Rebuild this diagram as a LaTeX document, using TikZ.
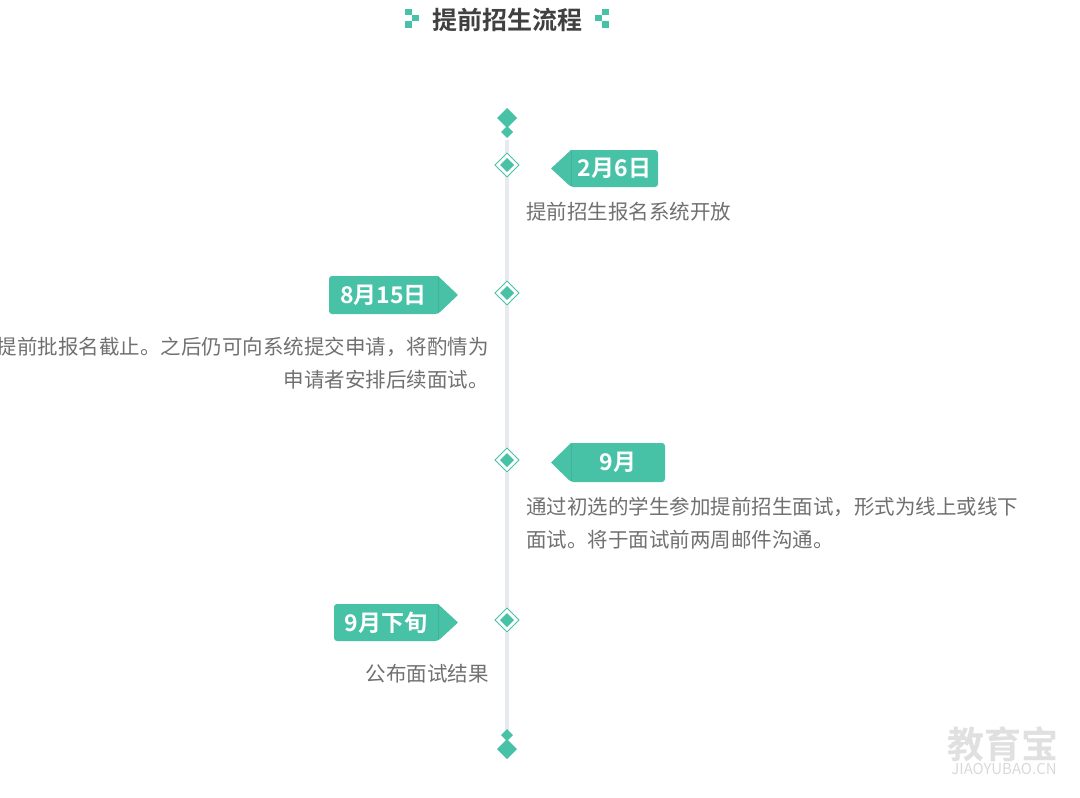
\documentclass[tikz,border=0pt]{standalone}
\usepackage{fontspec}
\setmainfont{Noto Sans CJK SC}
\newfontfamily\boldcjk{Noto Sans CJK SC Bold}
\begin{document}
\begin{tikzpicture}[x=1pt,y=-1pt,
  desc/.style={text=gray1,font=\fontsize{20.5}{33}\selectfont,inner sep=0pt},
  tagtxt/.style={text=white,font=\boldcjk\fontsize{23}{26}\selectfont,inner sep=0pt}]
\definecolor{teal1}{HTML}{48C2A6}
\definecolor{teal2}{HTML}{3FB397}
\definecolor{gray1}{HTML}{707070}
\definecolor{line1}{HTML}{E8E9F0}
\useasboundingbox (0,0) rectangle (1080,798);
% title
\node[text=black!75,font=\boldcjk\fontsize{25}{28}\selectfont,inner sep=0pt] (title) at (507,20) {提前招生流程};
\foreach \s/\o in {1/405,-1/609}{
  \fill[teal1] (\o,9) rectangle ++(\s*7,6);
  \fill[teal1] (\o+\s*7,15) rectangle ++(\s*7,6);
  \fill[teal1] (\o,21) rectangle ++(\s*7,7);
}
% line
\fill[line1] (505,140) rectangle (509,735);
% end diamonds
\fill[teal1] (507,108) -- (517,118) -- (507,128) -- (497,118) -- cycle;
\fill[teal1] (507,126) -- (513,132) -- (507,138) -- (501,132) -- cycle;
\fill[teal1] (507,729) -- (513,735) -- (507,741) -- (501,735) -- cycle;
\fill[teal1] (507,739) -- (517,749) -- (507,759) -- (497,749) -- cycle;
% milestone markers
\foreach \y/\n in {165/m1,293/m2,460/m3,620/m4}{
  \coordinate (\n) at (507,\y);
  \fill[white] (507,\y-13) -- (520,\y) -- (507,\y+13) -- (494,\y) -- cycle;
  \draw[teal1,line width=0.8] (507,\y-12) -- (519,\y) -- (507,\y+12) -- (495,\y) -- cycle;
  \fill[teal1] (507,\y-7) -- (514,\y) -- (507,\y+7) -- (500,\y) -- cycle;
}
% right tags
\foreach \a/\b/\ya/\yb/\t/\n in {551/658/150/187/2月6日/t1, 551/665/443/482/9月/t3}{
  \fill[teal1,rounded corners=3] (\a+20,\ya) -- (\b,\ya) -- (\b,\yb) -- (\a+20,\yb) [sharp corners]-- (\a,{(\ya+\yb)/2}) -- cycle;
  \draw[teal2,line width=1] (\a+20,\ya+1) -- (\a+20,\yb-1);
  \node[tagtxt] (\n) at ({(\a+20+\b)/2},{(\ya+\yb)/2}) {\t};
}
% left tags
\foreach \a/\b/\ya/\yb/\t/\n in {329/458/276/314/8月15日/t2, 334/458/604/641/9月下旬/t4}{
  \fill[teal1,rounded corners=3] (\b-20,\ya) -- (\a,\ya) -- (\a,\yb) -- (\b-20,\yb) [sharp corners]-- (\b,{(\ya+\yb)/2}) -- cycle;
  \draw[teal2,line width=1] (\b-20,\ya+1) -- (\b-20,\yb-1);
  \node[tagtxt] (\n) at ({(\a+\b-20)/2},{(\ya+\yb)/2}) {\t};
}
% descriptions
\node[desc,anchor=west] (d1) at (526,212) {提前招生报名系统开放};
\node[desc,anchor=east] (d2a) at (489,347) {提前批报名截止。之后仍可向系统提交申请，将酌情为};
\node[desc,anchor=east] (d2b) at (489,380) {申请者安排后续面试。};
\node[desc,anchor=west] (d3a) at (526,507) {通过初选的学生参加提前招生面试，形式为线上或线下};
\node[desc,anchor=west] (d3b) at (526,540) {面试。将于面试前两周邮件沟通。};
\node[desc,anchor=east] (d4) at (489,674) {公布面试结果};
% watermark
\node[text=black!12,font=\boldcjk\fontsize{37}{40}\selectfont,inner sep=0pt] (wm) at (1003,744) {教育宝};
\node[text=black!15,font=\fontsize{15}{16}\selectfont,inner sep=0pt] (wm2) at (1004,769) {JIAOYUBAO.CN};
\end{tikzpicture}
\end{document}
